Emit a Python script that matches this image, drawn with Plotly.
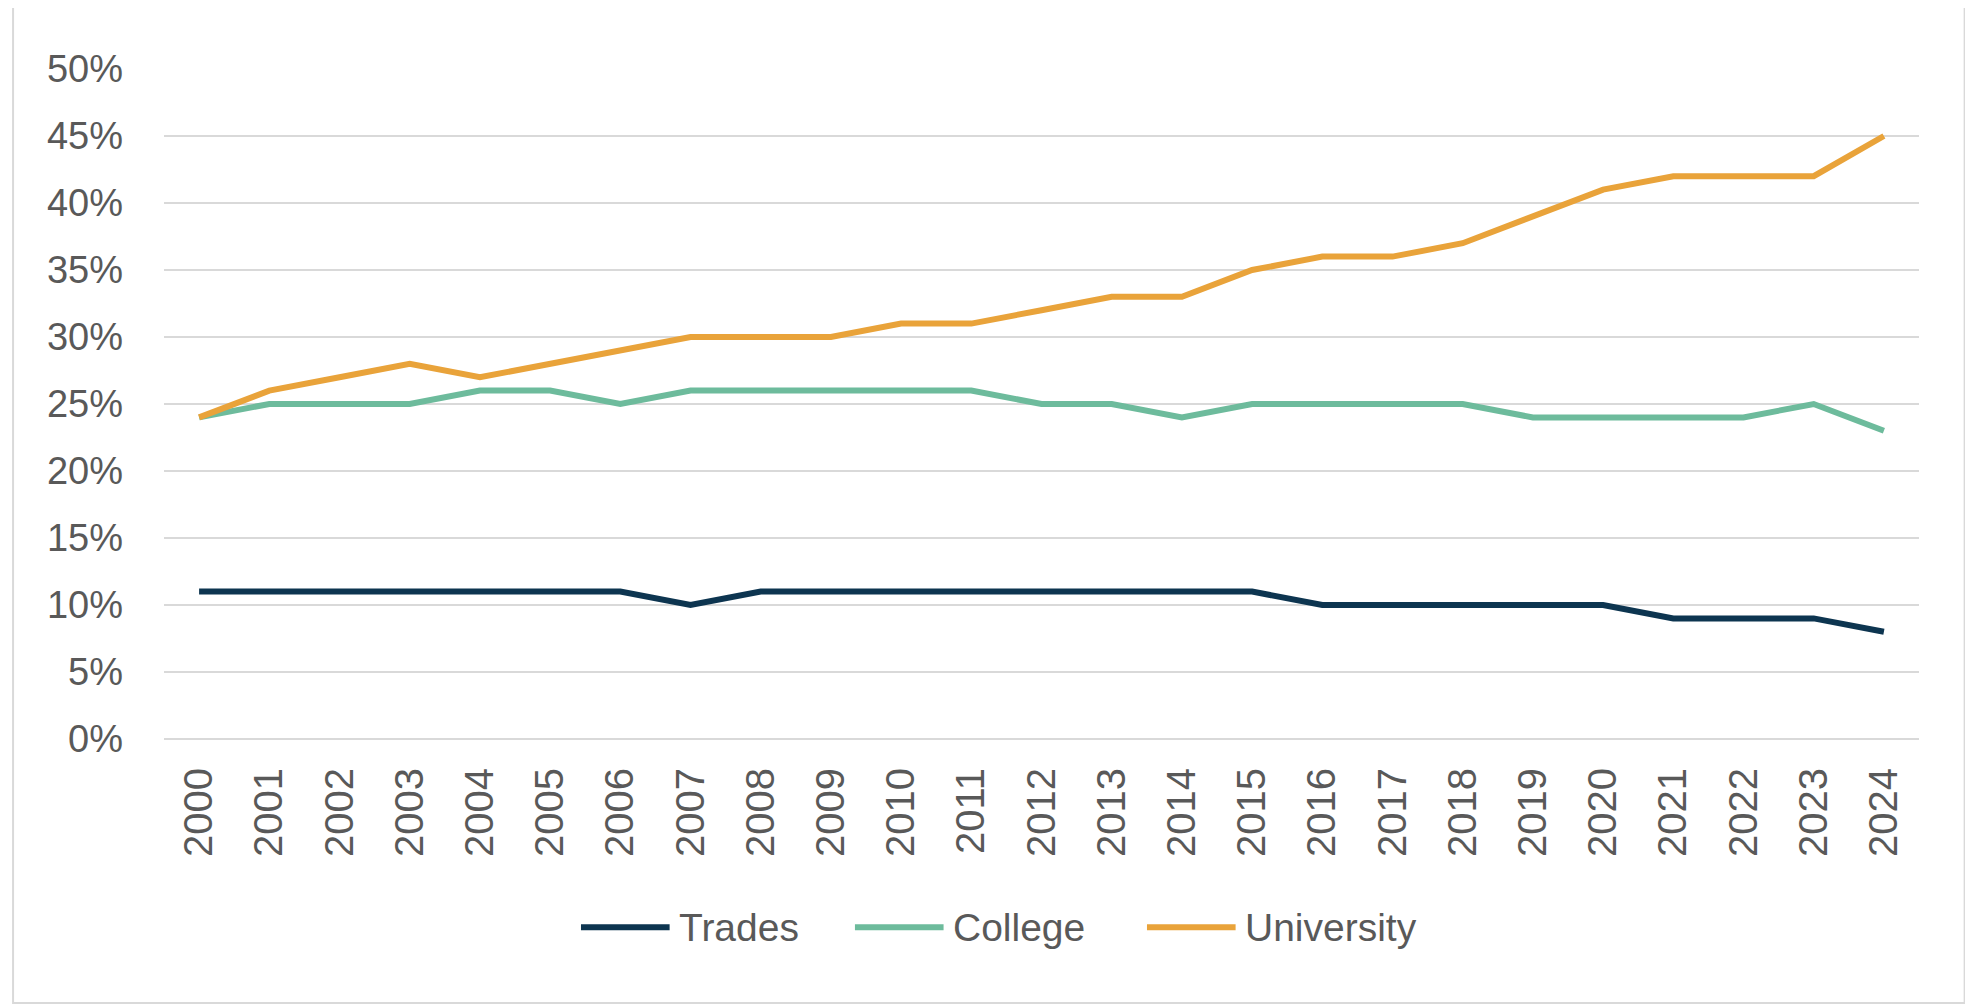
import plotly.graph_objects as go


years = [str(y) for y in range(2000, 2025)]

trades = [11, 11, 11, 11, 11, 11, 11, 10, 11, 11, 11, 11, 11,
          11, 11, 11, 10, 10, 10, 10, 10, 9, 9, 9, 8]
college = [24, 25, 25, 25, 26, 26, 25, 26, 26, 26, 26, 26, 25,
           25, 24, 25, 25, 25, 25, 24, 24, 24, 24, 25, 23]
university = [24, 26, 27, 28, 27, 28, 29, 30, 30, 30, 31, 31, 32,
              33, 33, 35, 36, 36, 37, 39, 41, 42, 42, 42, 45]

series_names = ["Trades", "College", "University"]
series_values = [trades, college, university]
series_colors = ["#0d3550", "#6dbb9c", "#e9a33a"]

font_family = "Liberation Sans, Arial, sans-serif"
text_color = "#595959"
grid_color = "#d9d9d9"

fig = go.Figure()

for name, values, color in zip(series_names, series_values, series_colors):
    fig.add_trace(
        go.Scatter(
            x=years,
            y=[v / 100 for v in values],
            mode="lines",
            name=name,
            line=dict(color=color, width=6),
            showlegend=False,
        )
    )

# legend drawn by hand so the line samples are long like the original
legend_y = -0.281
legend_x = [0.2376, 0.3937, 0.5601]
sample_len = 0.0505
shapes = [
    dict(
        type="rect",
        xref="paper",
        yref="paper",
        x0=-0.086,
        x1=1.026,
        y0=-0.394,
        y1=1.094,
        line=dict(color="#d9d9d9", width=2),
        layer="below",
    )
]
annotations = []
for name, color, x0 in zip(series_names, series_colors, legend_x):
    shapes.append(
        dict(
            type="line",
            xref="paper",
            yref="paper",
            x0=x0,
            x1=x0 + sample_len,
            y0=legend_y,
            y1=legend_y,
            line=dict(color=color, width=6),
        )
    )
    annotations.append(
        dict(
            xref="paper",
            yref="paper",
            x=x0 + sample_len + 0.004,
            y=legend_y,
            xanchor="left",
            yanchor="middle",
            text=name,
            showarrow=False,
            font=dict(size=39, color=text_color),
        )
    )

fig.update_layout(
    width=1965,
    height=997,
    margin=dict(l=156, r=54, t=61, b=266),
    paper_bgcolor="white",
    plot_bgcolor="white",
    font=dict(family=font_family, size=36, color=text_color),
    showlegend=False,
    shapes=shapes,
    annotations=annotations,
)

fig.update_xaxes(
    type="category",
    range=[-0.5, 24.5],
    tickangle=-90,
    showgrid=False,
    showline=False,
    ticks="",
    ticklabelstandoff=20,
    tickfont=dict(size=40, color=text_color),
)

fig.update_yaxes(
    range=[0, 0.5],
    dtick=0.05,
    tickformat=".0%",
    showgrid=True,
    gridcolor=grid_color,
    gridwidth=2,
    zeroline=True,
    zerolinecolor=grid_color,
    zerolinewidth=2,
    showline=False,
    ticks="",
    ticklabelstandoff=40,
    tickfont=dict(size=38, color=text_color),
)

fig.write_html("out.html")
